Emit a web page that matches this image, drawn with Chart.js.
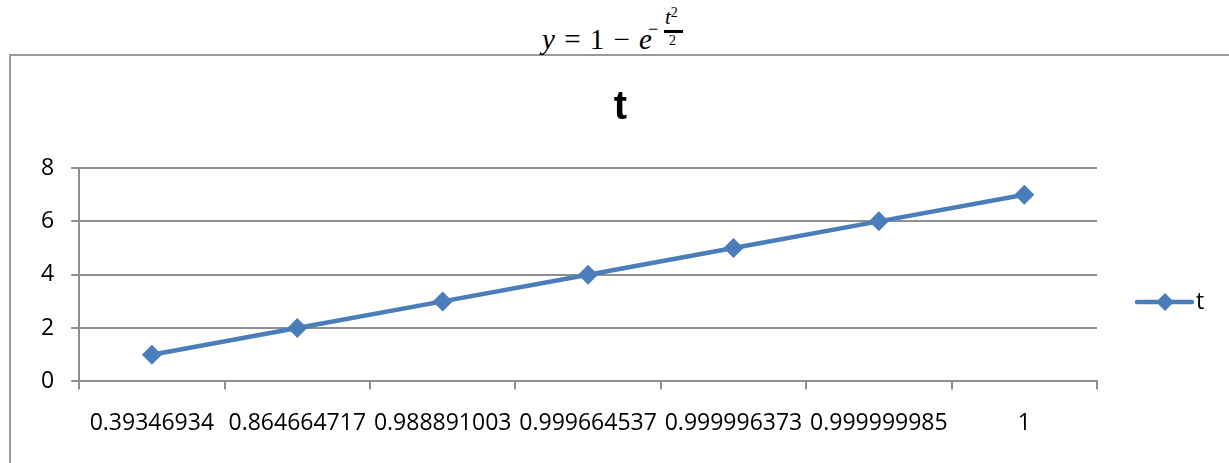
<!DOCTYPE html>
<html>
<head>
<meta charset="utf-8">
<script src="https://cdn.jsdelivr.net/npm/chart.js@4.4.0/dist/chart.umd.min.js"></script>
<style>
  html, body { margin: 0; padding: 0; background: #fff; overflow: hidden; }
  #wrap { position: relative; width: 1229px; height: 463px; }
  #frame { position: absolute; left: 9px; top: 54px; width: 1240px; height: 430px;
           border: 2px solid #999; box-sizing: border-box; }
  #formula { position: absolute; left: 542px; top: 0; width: 160px; height: 54px;
             font-family: "Liberation Serif", serif; color: #000; }
  #formula .p { position: absolute; white-space: pre; line-height: 1; }
  #formula .main { left: 0; top: 25px; font-size: 29px; word-spacing: 2px; }
  #formula .neg { left: 106px; top: 20px; font-size: 18px; }
  #formula .num { left: 123px; top: 7px; font-size: 21px; }
  #formula .num sup { font-size: 14px; vertical-align: 7px; font-style: normal; line-height: 0; }
  #formula .bar { position: absolute; left: 122px; top: 30px; width: 19px; height: 3px; background: #000; }
  #formula .den { left: 127px; top: 34px; font-size: 14px; }
  canvas { position: absolute; left: 0; top: 0; }
</style>
</head>
<body>
<div id="wrap">
  <div id="frame"></div>
  <div id="formula">
    <span class="p main"><i>y</i> = 1 − <i>e</i></span>
    <span class="p neg">−</span>
    <span class="p num"><i>t</i><sup>2</sup></span>
    <div class="bar"></div>
    <span class="p den">2</span>
  </div>
  <canvas id="c" width="1229" height="463"></canvas>
</div>
<script>
var categories = ['0.39346934', '0.864664717', '0.988891003', '0.999664537', '0.999996373', '0.999999985', '1'];
var tValues = [1, 2, 3, 4, 5, 6, 7];
var yTicks = [0, 2, 4, 6, 8];

var blue = '#4a7ebb';
var gridGray = '#8f8f8f';

// legend drawn by hand: line with a diamond, then the series name
var legendPlugin = {
	id: 'sideLegend',
	afterDraw: function(chart) {
		var c = chart.ctx;
		var ds = chart.data.datasets[0];
		var x0 = 1137, x1 = 1192, y = 302, mid = 1165;
		c.save();
		c.strokeStyle = blue;
		c.lineWidth = 4.5;
		c.lineCap = 'round';
		c.beginPath();
		c.moveTo(x0, y);
		c.lineTo(x1, y);
		c.stroke();
		c.fillStyle = blue;
		c.beginPath();
		c.moveTo(mid, y - 9);
		c.lineTo(mid + 9, y);
		c.lineTo(mid, y + 9);
		c.lineTo(mid - 9, y);
		c.closePath();
		c.fill();
		c.fillStyle = '#000';
		c.font = '23px "Open Sans"';
		c.textBaseline = 'middle';
		c.fillText(ds.label, 1196, y);
		c.restore();
	}
};

var ctx = document.getElementById('c').getContext('2d');
new Chart(ctx, {
	type: 'line',
	data: {
		labels: categories,
		datasets: [{
			label: 't',
			data: tValues,
			borderColor: blue,
			backgroundColor: blue,
			borderWidth: 4.5,
			pointStyle: 'rectRot',
			pointRadius: 10,
			pointHoverRadius: 10,
			pointBackgroundColor: blue,
			pointBorderColor: blue,
			pointBorderWidth: 0,
			tension: 0
		}]
	},
	options: {
		responsive: false,
		animation: false,
		events: [],
		layout: { padding: { left: 12, right: 0, top: 84, bottom: 6 } },
		plugins: {
			title: {
				display: true,
				text: 't',
				color: '#000',
				font: { family: 'Liberation Sans', size: 40, weight: 'bold' },
				padding: { top: 0, bottom: 36 }
			},
			legend: { display: false },
			tooltip: { enabled: false }
		},
		scales: {
			x: {
				offset: true,
				grid: { offset: true, drawOnChartArea: false, drawTicks: true, tickLength: 8, color: gridGray, lineWidth: 2 },
				border: { color: gridGray, width: 2 },
				ticks: { color: '#000', font: { family: 'Open Sans', size: 23 }, padding: 20, maxRotation: 0, autoSkip: false }
			},
			y: {
				min: 0,
				max: 8,
				afterBuildTicks: function(axis) { axis.ticks = yTicks.map(function(v) { return { value: v }; }); },
				afterFit: function(axis) { axis.width += 12; },
				grid: { color: gridGray, lineWidth: 2, tickLength: 8 },
				border: { color: gridGray, width: 2 },
				ticks: { color: '#000', font: { family: 'Open Sans', size: 23 }, padding: 17 }
			},
			// empty right-hand axis that only reserves room for the legend
			room: {
				type: 'linear',
				position: 'right',
				grid: { display: false },
				border: { display: false },
				ticks: { display: false },
				afterFit: function(axis) { axis.width = 132; }
			}
		}
	},
	plugins: [legendPlugin]
});
</script>
</body>
</html>
